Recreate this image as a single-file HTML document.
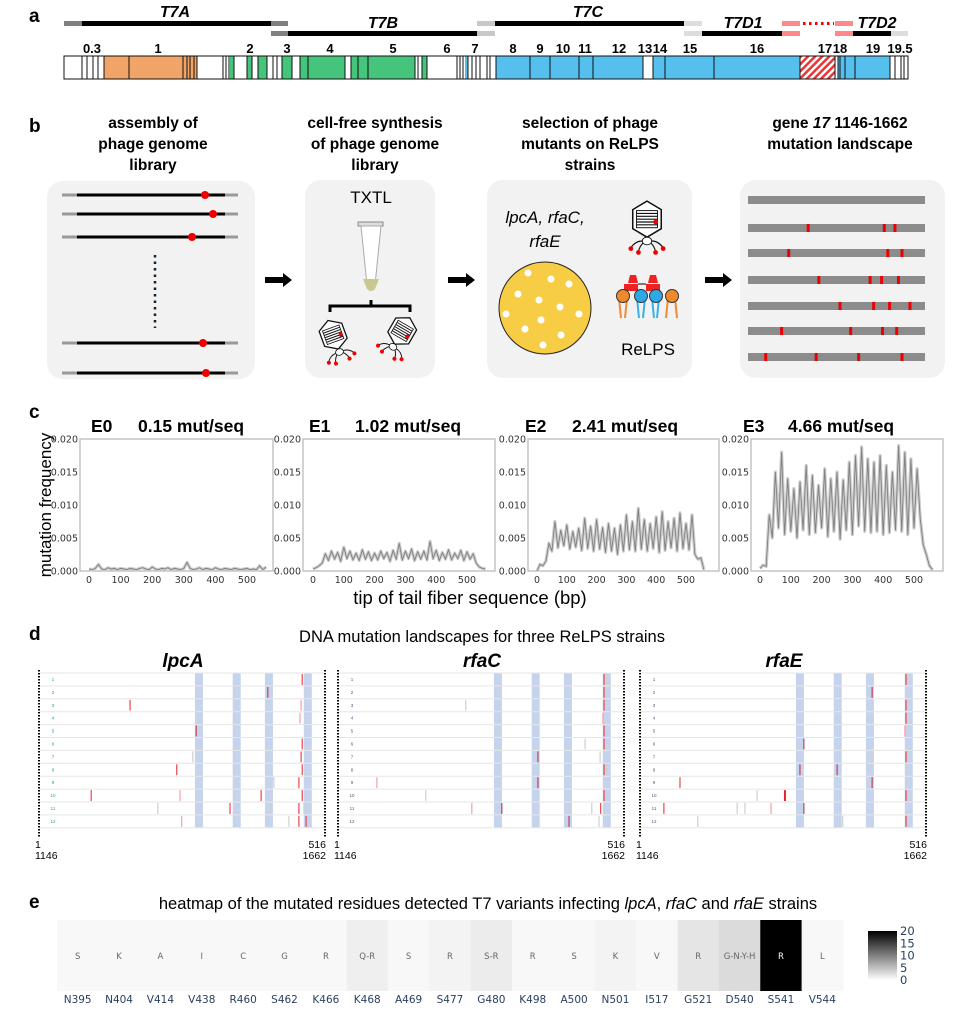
<!DOCTYPE html>
<html><head><meta charset="utf-8"><style>
html,body{margin:0;padding:0;background:#fff;}
svg{display:block;font-family:"Liberation Sans",Arial,sans-serif;}
.pl{font-weight:bold;font-size:19px;}
.gl{font-weight:bold;font-size:13px;text-anchor:middle;}
.bt{font-weight:bold;font-size:15.5px;text-anchor:middle;}
.tk{font-family:"DejaVu Sans",sans-serif;font-size:9.5px;fill:#333;}
</style></head><body>
<svg id="fig" width="973" height="1026" viewBox="0 0 973 1026" xmlns="http://www.w3.org/2000/svg">
<defs>
<pattern id="hatch" patternUnits="userSpaceOnUse" width="5" height="5" patternTransform="rotate(45)"><rect width="5" height="5" fill="#fff"/><rect width="2.5" height="5" fill="#e33"/></pattern>
<g id="phage">
<polygon points="0,-22 15,-13 15,7 0,16 -15,7 -15,-13" fill="#fff" stroke="#111" stroke-width="1.6"/>
<rect x="-11" y="-12" width="22" height="18" fill="#fff" stroke="#111" stroke-width="1"/>
<path d="M-11,-9H11M-11,-6H11M-11,-3H11M-11,0H11M-11,3H11" stroke="#111" stroke-width="1.2"/>
<circle cx="9" cy="0" r="2.5" fill="#e00"/>
<ellipse cx="0" cy="20" rx="5" ry="4" fill="#fff" stroke="#111"/>
<path d="M-5,20 Q-12,20 -17,27 M-4,22 Q-8,26 -9,31 M5,20 Q12,20 17,27 M4,22 Q8,26 9,31" stroke="#111" fill="none" stroke-width="1.2"/>
<circle cx="-17" cy="28" r="2.5" fill="#e00"/><circle cx="-9" cy="32" r="2.5" fill="#e00"/><circle cx="9" cy="32" r="2.5" fill="#e00"/><circle cx="17" cy="28" r="2.5" fill="#e00"/>
</g>
</defs>

<!-- PANEL A -->
<g>
<text class="pl" x="29" y="22">a</text>
<g>
<rect x="64" y="21" width="18" height="5" fill="#808080"/><rect x="82" y="21" width="189" height="5" fill="#000"/><rect x="271" y="21" width="17" height="5" fill="#808080"/>
<rect x="271" y="31" width="17" height="5" fill="#808080"/><rect x="288" y="31" width="189" height="5" fill="#000"/><rect x="477" y="31" width="18" height="5" fill="#c8c8c8"/>
<rect x="477" y="21" width="18" height="5" fill="#c8c8c8"/><rect x="495" y="21" width="189" height="5" fill="#000"/><rect x="684" y="21" width="18" height="5" fill="#ddd"/>
<rect x="684" y="31" width="18" height="5" fill="#ddd"/><rect x="702" y="31" width="80" height="5" fill="#000"/><rect x="782" y="31" width="18" height="5" fill="#f88"/>
<rect x="782" y="21" width="18" height="5" fill="#f88"/><rect x="835" y="21" width="18" height="5" fill="#f88"/>
<path d="M803,23.5H834" stroke="#e00" stroke-width="3" stroke-dasharray="2.5,3.5"/>
<rect x="835" y="31" width="18" height="5" fill="#f88"/><rect x="853" y="31" width="38" height="5" fill="#000"/><rect x="891" y="31" width="17" height="5" fill="#ddd"/>
</g>
<g font-weight="bold" font-style="italic" font-size="16" text-anchor="middle">
<text x="175" y="17">T7A</text>
<text x="383" y="28">T7B</text>
<text x="588" y="17">T7C</text>
<text x="743" y="28">T7D1</text>
<text x="877" y="28">T7D2</text>
</g>
<g>
<rect x="64" y="56" width="844" height="23" fill="#fff" stroke="#111"/>
<rect x="104" y="56" width="93" height="23" fill="#f0a467"/>
<rect x="230" y="56" width="4" height="23" fill="#45c47b"/>
<rect x="247" y="56" width="5" height="23" fill="#45c47b"/><rect x="258" y="56" width="9" height="23" fill="#45c47b"/>
<rect x="282" y="56" width="10" height="23" fill="#45c47b"/><rect x="300" y="56" width="45" height="23" fill="#45c47b"/>
<rect x="351" y="56" width="64" height="23" fill="#45c47b"/><rect x="422" y="56" width="5" height="23" fill="#45c47b"/>
<rect x="465" y="56" width="3" height="23" fill="#55c0ee"/>
<rect x="496" y="56" width="147" height="23" fill="#55c0ee"/><rect x="653" y="56" width="147" height="23" fill="#55c0ee"/>
<rect x="800" y="56" width="35" height="23" fill="url(#hatch)"/>
<rect x="838" y="56" width="52" height="23" fill="#55c0ee"/>
<path d="M82,56V79M87,56V79M93,56V79M98,56V79M104,56V79M129,56V79M183,56V79M187,56V79M190,56V79M194,56V79M197,56V79M223,56V79M226,56V79M229,56V79M234,56V79M247,56V79M252,56V79M258,56V79M267,56V79M273,56V79M277,56V79M282,56V79M292,56V79M300,56V79M308,56V79M345,56V79M351,56V79M358,56V79M368,56V79M415,56V79M418,56V79M422,56V79M427,56V79M457,56V79M460,56V79M463,56V79M468,56V79M472,56V79M476,56V79M480,56V79M487,56V79M490,56V79M496,56V79M530,56V79M550,56V79M579,56V79M593,56V79M643,56V79M653,56V79M665,56V79M714,56V79M800,56V79M835,56V79M838,56V79M840,56V79M845,56V79M855,56V79M890,56V79M895,56V79M901,56V79M904,56V79" stroke="#111" stroke-width="1"/>
<rect x="64" y="56" width="844" height="23" fill="none" stroke="#111"/>
</g>
<g class="gl">
<text x="92" y="53">0.3</text><text x="158" y="53">1</text><text x="250" y="53">2</text><text x="287" y="53">3</text><text x="330" y="53">4</text><text x="393" y="53">5</text><text x="447" y="53">6</text><text x="475" y="53">7</text><text x="513" y="53">8</text><text x="540" y="53">9</text><text x="563" y="53">10</text><text x="585" y="53">11</text><text x="619" y="53">12</text><text x="645" y="53">13</text><text x="660" y="53">14</text><text x="690" y="53">15</text><text x="757" y="53">16</text><text x="825" y="53">17</text><text x="840" y="53">18</text><text x="873" y="53">19</text><text x="900" y="53">19.5</text>
</g>
</g>

<!-- PANEL B -->
<g>
<text class="pl" x="29" y="132">b</text>
<g class="bt">
<text x="153" y="128">assembly of</text><text x="153" y="149">phage genome</text><text x="153" y="170">library</text>
<text x="375" y="128">cell-free synthesis</text><text x="375" y="149">of phage genome</text><text x="375" y="170">library</text>
<text x="590" y="128">selection of phage</text><text x="590" y="149">mutants on ReLPS</text><text x="590" y="170">strains</text>
<text x="840" y="128">gene <tspan font-style="italic">17</tspan> 1146-1662</text><text x="840" y="149">mutation landscape</text>
</g>
<rect x="47" y="181" width="208" height="198" rx="16" fill="#f2f2f2"/>
<rect x="305" y="180" width="130" height="198" rx="16" fill="#f2f2f2"/>
<rect x="487" y="180" width="205" height="198" rx="16" fill="#f2f2f2"/>
<rect x="740" y="180" width="205" height="198" rx="16" fill="#f2f2f2"/>
<g>
<g stroke-width="3"><path d="M62,195H77M225,195H238M62,214H77M225,214H238M62,237H77M225,237H238M62,343H77M225,343H238M62,373H77M225,373H238" stroke="#999"/>
<path d="M77,195H225M77,214H225M77,237H225M77,343H225M77,373H225" stroke="#000"/></g>
<circle cx="205" cy="195" r="4" fill="#e00"/><circle cx="213" cy="214" r="4" fill="#e00"/><circle cx="192" cy="237" r="4" fill="#e00"/><circle cx="203" cy="343" r="4" fill="#e00"/><circle cx="206" cy="373" r="4" fill="#e00"/>
<path d="M155,255V328" stroke="#123" stroke-width="2.5" stroke-dasharray="2.5,4"/>
</g>
<g fill="#000">
<path d="M265,277H283V273L292,280L283,287V283H265Z"/><path d="M448,277H466V273L475,280L466,287V283H448Z"/><path d="M705,277H723V273L732,280L723,287V283H705Z"/>
</g>
<text x="371" y="203" font-size="17" text-anchor="middle">TXTL</text>
<g>
<rect x="358" y="222" width="25" height="4" fill="#ddd" stroke="#888"/>
<path d="M361,226H381L375,285Q371,293 367,285Z" fill="#fff" stroke="#aaa"/>
<path d="M363,279H379L375,289Q371,293 367,289Z" fill="#c8c890"/>
<path d="M330,312V306H410V312M371,306V300" stroke="#000" stroke-width="3" fill="none"/>
</g>
<use href="#phage" transform="translate(334,337) rotate(-20) scale(0.8)"/>
<use href="#phage" transform="translate(401,333) rotate(30) scale(0.8)"/>
<text x="545" y="223" font-size="17" font-style="italic" text-anchor="middle">lpcA, rfaC,</text>
<text x="545" y="247" font-size="17" font-style="italic" text-anchor="middle">rfaE</text>
<g>
<circle cx="545" cy="308" r="46" fill="#f6cd45" stroke="#222"/>
<g fill="#fff"><circle cx="528" cy="273" r="3.5"/><circle cx="551" cy="279" r="3.5"/><circle cx="569" cy="284" r="3.5"/><circle cx="518" cy="294" r="3.5"/><circle cx="539" cy="300" r="3.5"/><circle cx="560" cy="307" r="3.5"/><circle cx="506" cy="314" r="3.5"/><circle cx="541" cy="320" r="3.5"/><circle cx="579" cy="314" r="3.5"/><circle cx="525" cy="329" r="3.5"/><circle cx="561" cy="335" r="3.5"/><circle cx="543" cy="345" r="3.5"/></g>
</g>
<use href="#phage" transform="translate(647,222) scale(0.95)"/>
<g>
<path d="M628,283h10l-2,-8h-6z M648,283h10l-2,-8h-6z" fill="#e22"/>
<rect x="624" y="284" width="14" height="7" fill="#e22"/><rect x="646" y="284" width="14" height="7" fill="#e22"/>
<path d="M638,284H646" stroke="#000"/>
<path d="M619,298L621,318M627,298L625,318M668,298L666,318M675,298L677,318" stroke="#f08a30" stroke-width="2"/>
<path d="M637,298L639,318M645,298L643,318M652,298L654,318M659,298L657,318" stroke="#3ab0ea" stroke-width="2"/>
<circle cx="623" cy="296" r="6.5" fill="#ee8a2c" stroke="#333"/><circle cx="641" cy="296" r="6.5" fill="#2fa8e6" stroke="#333"/><circle cx="656" cy="296" r="6.5" fill="#2fa8e6" stroke="#333"/><circle cx="672" cy="296" r="6.5" fill="#ee8a2c" stroke="#333"/>
</g>
<text x="648" y="355" font-size="17" text-anchor="middle">ReLPS</text>
<g id="landscape"></g>
</g>

<!-- PANEL C -->
<g>
<text class="pl" x="29" y="418">c</text>
<g id="pc"></g>
<text transform="translate(51,505) rotate(-90)" font-size="17" text-anchor="middle">mutation frequency</text>
<text x="470" y="604" font-size="18.5" text-anchor="middle">tip of tail fiber sequence (bp)</text>
</g>

<!-- PANEL D -->
<g>
<text class="pl" x="29" y="640">d</text>
<text x="482" y="642" font-size="16.5" text-anchor="middle">DNA mutation landscapes for three ReLPS strains</text>
<g id="pd"></g>
</g>

<!-- PANEL E -->
<g>
<text class="pl" x="29" y="908">e</text>
<text x="488" y="909" font-size="16.5" text-anchor="middle">heatmap of the mutated residues detected T7 variants infecting <tspan font-style="italic">lpcA</tspan>, <tspan font-style="italic">rfaC</tspan> and <tspan font-style="italic">rfaE</tspan> strains</text>
<g id="pe"></g>
<defs><linearGradient id="cbg" x1="0" y1="1" x2="0" y2="0"><stop offset="0" stop-color="#fff"/><stop offset="1" stop-color="#000"/></linearGradient></defs>
<rect x="868" y="931" width="29" height="49" fill="url(#cbg)"/>
<g id="cbt"></g>
</g>
</svg>
<script>
const NS="http://www.w3.org/2000/svg";
function mk(tag,attrs,parent,txt){const e=document.createElementNS(NS,tag);for(const k in attrs)e.setAttribute(k,attrs[k]);if(txt!==undefined)e.textContent=txt;parent.appendChild(e);return e;}

// ---------- Panel b landscape data ----------
const landRows=[1,1,1,2,2,2,3,3,3,3,4,4,4,4,5,5,5,5,6,6,6,6];
const landPos=[340,770,830,230,790,870,400,690,755,850,520,710,800,915,190,580,760,840,100,385,625,870];
// ---------- Panel c data ----------
const seriesNames=["E0","E1","E2","E3"];
const seriesRates=["0.15 mut/seq","1.02 mut/seq","2.41 mut/seq","4.66 mut/seq"];
const stepBp=10;
const freqE0=[0.0003,0.0002,0.0004,0.001,0.0003,0.0002,0.0005,0.0003,0.0004,0.0002,0.0004,0.0003,0.0002,0.0004,0.0003,0.0002,0.0004,0.0005,0.0003,0.0002,0.0006,0.0003,0.0002,0.0004,0.0003,0.0005,0.0002,0.0004,0.0003,0.0002,0.0004,0.0013,0.0004,0.0002,0.0003,0.0005,0.0002,0.0004,0.0003,0.0002,0.0005,0.0003,0.0002,0.0004,0.0003,0.0002,0.0004,0.0003,0.0002,0.0003,0.0004,0.0002,0.0003,0.0002,0.0008,0.0002,0.0006];
const freqE1=[0.0003,0.0005,0.0008,0.0012,0.0026,0.0016,0.0030,0.0018,0.0028,0.0015,0.0036,0.0019,0.0030,0.0017,0.0027,0.0016,0.0032,0.0018,0.0029,0.0016,0.0027,0.0017,0.0030,0.0019,0.0028,0.0015,0.0031,0.0018,0.0042,0.0017,0.0030,0.0019,0.0033,0.0016,0.0029,0.0018,0.0030,0.0017,0.0045,0.0019,0.0031,0.0016,0.0028,0.0018,0.0032,0.0017,0.0027,0.0019,0.0031,0.0016,0.0029,0.0018,0.0026,0.0012,0.0006,0.0004,0.0003];
const freqE2=[0.0000,0.0010,0.0008,0.0015,0.0042,0.0030,0.0075,0.0035,0.0062,0.0038,0.0070,0.0033,0.0060,0.0036,0.0065,0.0031,0.0080,0.0034,0.0068,0.0030,0.0078,0.0033,0.0066,0.0028,0.0072,0.0030,0.0065,0.0025,0.0070,0.0030,0.0085,0.0032,0.0075,0.0030,0.0095,0.0033,0.0078,0.0030,0.0072,0.0034,0.0082,0.0028,0.0090,0.0031,0.0075,0.0035,0.0080,0.0030,0.0088,0.0034,0.0072,0.0032,0.0085,0.0025,0.0018,0.0020,0.0002];
const freqE3=[0.0004,0.0009,0.0007,0.0085,0.0050,0.0150,0.0065,0.0180,0.0055,0.0140,0.0060,0.0125,0.0050,0.0135,0.0062,0.0160,0.0055,0.0145,0.0058,0.0130,0.0065,0.0155,0.0052,0.0140,0.0060,0.0150,0.0048,0.0138,0.0062,0.0165,0.0055,0.0175,0.0068,0.0188,0.0060,0.0170,0.0058,0.0165,0.0060,0.0175,0.0055,0.0160,0.0058,0.0150,0.0062,0.0190,0.0060,0.0180,0.0055,0.0170,0.0065,0.0155,0.0080,0.0040,0.0025,0.0008,0.0002];
const yTicks=[0,0.005,0.01,0.015,0.02];
const yTickLabels=["0.000","0.005","0.010","0.015","0.020"];
const xTicks=[0,100,200,300,400,500];
// ---------- Panel d data ----------
const strainNames=["lpcA","rfaC","rfaE"];
const bandCenters=[289,357,415,485];
const lpcARows=[1,2,3,3,4,5,6,7,7,8,8,9,9,10,10,10,10,11,11,11,11,11,12,12,12,12];
const lpcAPos=[475,413,165,473,471,284,475,278,473,249,475,424,469,95,255,401,475,215,345,419,469,478,258,451,469,482];
const lpcAType=["r","d","r","p","p","d","r","g","r","r","r","g","r","r","p","r","r","g","r","g","r","g","p","g","r","r"];
const rfaCRows=[1,1,2,3,3,4,5,6,6,7,7,8,8,9,9,10,10,11,11,11,11,11,12,12];
const rfaCPos=[480,485,480,231,480,478,480,446,480,361,473,480,485,71,361,159,480,242,296,419,458,474,417,471];
const rfaCType=["r","g","r","g","r","p","r","g","r","d","g","r","g","p","d","g","r","p","d","g","g","r","d","g"];
const rfaERows=[1,2,3,4,5,6,7,7,8,8,9,9,10,10,10,11,11,11,11,11,12,12,12];
const rfaEPos=[480,419,480,480,478,296,420,480,289,356,73,419,212,262,480,44,176,190,237,296,105,366,480];
const rfaEType=["r","d","r","r","p","d","g","r","d","d","r","d","g","R","r","r","g","g","p","d","g","g","r"];
// ---------- Panel e data ----------
const residues=["N395","N404","V414","V438","R460","S462","K466","K468","A469","S477","G480","K498","A500","N501","I517","G521","D540","S541","V544"];
const mutatedTo=["S","K","A","I","C","G","R","Q-R","S","R","S-R","R","S","K","V","R","G-N-Y-H","R","L"];
const counts=[0.25,0.25,0.25,0.25,0.25,0.25,0.25,1,0.25,0.65,1.2,0.25,0.25,0.65,0.25,1.8,2.6,20,0.25];
const cbTicks=[0,5,10,15,20];

// ===== Panel b landscape =====
(function(){
  const g=document.getElementById('landscape');
  const rowsY=[200,228,253,280,306,331,357];
  rowsY.forEach((y,i)=>{const r=mk('rect',{x:748,y:y-4,width:177,height:8,fill:'#8c8c8c'},g);
    
    });
  landRows.forEach((ri,i)=>{const m=mk('rect',{x:748+landPos[i]/1000*177-1.5,y:rowsY[ri]-4,width:3,height:8,fill:'#e00'},g);
    
    });
})();

// ===== Panel c =====
(function(){
  const root=document.getElementById('pc');
  const boxes=[{x0:80,x1:273,z:89,f:247,tx:91,rx:138},{x0:303,x1:495,z:313,f:467,tx:309,rx:355},{x0:528,x1:719,z:537,f:686,tx:525,rx:572},{x0:751,x1:943,z:760,f:914,tx:743,rx:788}];
  const data=[freqE0,freqE1,freqE2,freqE3];
  const yT=439,yB=571;
  const ys=v=>yB-(v/0.02)*(yB-yT);
  boxes.forEach((b,k)=>{
    const g=mk('g',{},root);
    
    
    const xs=bp=>b.z+bp/500*(b.f-b.z);
    const t1=mk('text',{x:b.tx,y:432,'font-weight':'bold','font-size':'17.5'},g,seriesNames[k]);
    
    
    const t2=mk('text',{x:b.rx,y:432,'font-weight':'bold','font-size':'17.5'},g,seriesRates[k]);
    
    
    const fr=mk('rect',{x:b.x0,y:yT,width:b.x1-b.x0,height:yB-yT,fill:'#fff',stroke:'#bbb','stroke-width':1.3},g);
    
    
    yTicks.forEach((v,i)=>{const t=mk('text',{x:b.x0-2,y:ys(v)+3.5,'text-anchor':'end',class:'tk'},g,yTickLabels[i]);
      
      });
    xTicks.forEach(v=>{const t=mk('text',{x:xs(v),y:583,'text-anchor':'middle',class:'tk'},g,String(v));
      
      });
    const pts=data[k].map((v,i)=>xs(i*stepBp).toFixed(1)+','+ys(v).toFixed(1)).join(' ');
    const bg=mk('polyline',{points:pts,fill:'none',stroke:'#cdcdcd','stroke-width':3.2,'stroke-linejoin':'round'},g);
    
    
    const ln=mk('polyline',{points:pts,fill:'none',stroke:'#808080','stroke-width':0.9},g);
    
    
  });
})();

// ===== Panel d =====
(function(){
  const root=document.getElementById('pd');
  const lefts=[39,338,640];const W=286;
  const rowsA=[lpcARows,rfaCRows,rfaERows],posA=[lpcAPos,rfaCPos,rfaEPos],typA=[lpcAType,rfaCType,rfaEType];
  const col={r:'#e8474f',d:'#c04458',p:'#f7a0a4',g:'#cfcfcf',R:'#e8232b'};
  const yTop=673,rowH=12.9;
  lefts.forEach((L,k)=>{
    const g=mk('g',{},root);
    
    
    const xs=bp=>L+(bp-1)/515*W;
    const ttl=mk('text',{x:L+144,y:667,'font-weight':'bold','font-style':'italic','font-size':'19','text-anchor':'middle'},g,strainNames[k]);
    
    
    bandCenters.forEach(c=>{const b=mk('rect',{x:xs(c)-4,y:yTop,width:8,height:12*rowH,fill:'#c6d3ec'},g);
      
      });
    for(let r=0;r<=12;r++){mk('line',{x1:L,x2:L+W,y1:yTop+r*rowH,y2:yTop+r*rowH,stroke:'#e6e6e6','stroke-width':1},g);}
    for(let r=1;r<=12;r++){const t=mk('text',{x:L+14,y:yTop+(r-0.5)*rowH+1.5,'font-size':'4.5',fill:k==0?'#2a6':'#557','text-anchor':'middle'},g,String(r));
      
      }
    rowsA[k].forEach((r,i)=>{const m=mk('rect',{x:xs(posA[k][i])-(typA[k][i]==='R'?1:0.6),y:yTop+(r-1)*rowH+1,width:typA[k][i]==='R'?2:1.2,height:rowH-2,fill:col[typA[k][i]]},g);
      
      });
    mk('line',{x1:L,x2:L,y1:670,y2:838,stroke:'#000','stroke-width':2,'stroke-dasharray':'1.5,1.5'},g);
    mk('line',{x1:L+W,x2:L+W,y1:670,y2:838,stroke:'#000','stroke-width':2,'stroke-dasharray':'1.5,1.5'},g);
    const a=mk('text',{x:L-4,y:848,'font-size':'10.5'},g,'1');
    const b2=mk('text',{x:L-4,y:859,'font-size':'10.5'},g,'1146');
    const c=mk('text',{x:L+W+1,y:848,'font-size':'10.5','text-anchor':'end'},g,'516');
    const d=mk('text',{x:L+W+1,y:859,'font-size':'10.5','text-anchor':'end'},g,'1662');
  });
})();

// ===== Panel e =====
(function(){
  const root=document.getElementById('pe');
  const x0=57,x1=843,y0=920,y1=991,w=(x1-x0)/residues.length;
  const shade=v=>{const c=Math.round(255*(1-Math.min(v,20)/20)*0.985);return 'rgb('+c+','+c+','+c+')';};
  residues.forEach((r,i)=>{
    const cell=mk('rect',{x:x0+i*w,y:y0,width:w+0.3,height:y1-y0,fill:shade(counts[i])},root);
    
    
    const t=mk('text',{x:x0+(i+0.5)*w,y:959,'font-family':'DejaVu Sans, sans-serif','font-size':'8.5','text-anchor':'middle',fill:counts[i]>10?'#fff':'#666'},root,mutatedTo[i]);
    
    
    const l=mk('text',{x:x0+(i+0.5)*w,y:1003,'font-family':'DejaVu Sans, sans-serif','font-size':'10.5','text-anchor':'middle',fill:'#2a3f5f'},root,r);
    
    
  });
  const cb=document.getElementById('cbt');
  cbTicks.forEach(v=>{const t=mk('text',{x:900,y:980-v/20*49+4,'font-family':'DejaVu Sans, sans-serif','font-size':'11.5',fill:'#2a3f5f'},cb,String(v));
    
    });
})();
</script>
</body></html>
